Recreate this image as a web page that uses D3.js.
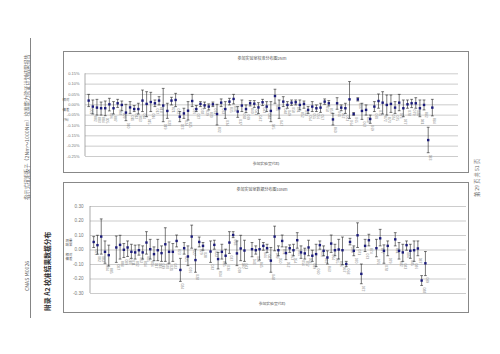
<!DOCTYPE html>
<html><head><meta charset="utf-8">
<script src="https://cdn.jsdelivr.net/npm/d3@7"></script>
<style>body{margin:0;background:#fff}svg{display:block}</style>
</head><body><svg id="c" width="500" height="354"></svg>
<script>
// ---------- DATA ----------
const codes2Nm = "001 002 003 004 005 006 007 008 009 010 011 012 013 014 015 016 017 018 019 020 021 022 023 024 025 026 027 028 029 030 031 032 033 034 035 036 037 038 039 040 041 042 043 044 045 046 047 048 049 050 051 052 053 054 055 056 057 058 059 060 061 062 063 064 065 066 067 068 069 070 071 072 073 074 075 076 077 078 079 080 081 082 083 084".split(" ");
const mean2Nm = [0.018,-0.011,-0.016,-0.019,-0.019,0.000,-0.019,0.005,-0.003,-0.040,
 -0.015,-0.023,-0.023,0.018,0.002,0.011,0.005,0.018,-0.006,-0.032,
 0.018,0.021,-0.060,-0.044,-0.031,0.016,-0.023,0.002,-0.005,-0.011,
 0.000,-0.047,0.008,-0.023,0.013,0.026,-0.035,-0.006,-0.023,0.005,
 0.003,-0.015,0.010,-0.011,-0.032,0.040,-0.019,0.013,-0.003,0.008,
 0.010,-0.003,0.002,-0.027,-0.011,-0.019,-0.016,0.013,0.005,-0.073,
 0.005,-0.016,-0.019,0.024,-0.047,0.024,-0.032,-0.027,-0.071,-0.011,
 0.016,0.008,-0.003,0.002,-0.016,0.008,-0.019,0.000,0.005,0.005,
 -0.019,-0.003,-0.173,-0.016];
const high2Nm = [0.048,0.021,0.024,0.011,0.016,0.029,0.013,0.024,0.016,0.000,
 0.013,-0.006,0.005,0.069,0.061,0.058,0.021,0.037,0.077,0.005,
 0.034,0.053,-0.035,-0.019,0.013,0.048,-0.006,0.013,0.011,0.002,
 0.011,0.000,0.026,0.013,0.029,0.048,-0.011,0.021,-0.003,0.018,
 0.018,0.008,0.024,0.013,0.013,0.073,0.021,0.037,0.013,0.021,
 0.021,0.021,0.016,-0.011,0.013,-0.003,0.005,0.026,0.018,-0.044,
 0.032,-0.003,0.005,0.110,-0.040,0.032,0.005,-0.003,-0.052,0.013,
 0.050,0.061,0.045,0.045,0.013,0.048,0.021,0.021,0.024,0.032,
 0.021,0.021,-0.111,0.024];
const low2Nm = [-0.011,-0.047,-0.052,-0.052,-0.055,-0.032,-0.047,-0.015,-0.031,-0.079,
 -0.044,-0.035,-0.047,-0.035,-0.060,-0.035,-0.011,-0.003,-0.084,-0.068,
 -0.003,-0.011,-0.084,-0.068,-0.076,-0.011,-0.035,-0.011,-0.019,-0.027,
 -0.011,-0.100,-0.011,-0.068,-0.003,0.002,-0.063,-0.035,-0.040,-0.008,
 -0.015,-0.045,-0.006,-0.035,-0.084,0.005,-0.068,-0.011,-0.019,-0.005,
 -0.003,-0.027,-0.019,-0.044,-0.035,-0.035,-0.039,0.000,-0.008,-0.100,
 -0.024,-0.031,-0.044,-0.068,-0.053,0.016,-0.073,-0.052,-0.092,-0.035,
 -0.019,-0.047,-0.052,-0.039,-0.044,-0.031,-0.060,-0.019,-0.016,-0.019,
 -0.060,-0.027,-0.234,-0.056];
const ticks2Nm = [0.15,0.10,0.05,0.00,-0.05,-0.10,-0.15,-0.20,-0.25];

const codes10Nm = "001 002 003 004 005 006 007 008 009 010 011 012 013 014 015 016 017 018 019 020 021 022 023 024 025 026 027 028 029 030 031 032 033 034 035 036 037 038 039 040 041 042 043 044 045 046 047 048 049 050 051 052 053 054 055 056 057 058 059 060 061 062 063 064 065 066 067 068 069 070 071 072 073 074 075 076 077 078 079 080 081 082 083 084 085 086 087 088 089".split(" ");
const mean10Nm = [0.052,0.030,0.089,-0.016,-0.039,null,
 0.014,0.032,-0.002,0.014,-0.016,-0.020,-0.005,-0.020,0.048,0.002,-0.032,-0.005,-0.025,0.036,-0.016,-0.016,0.059,-0.141,0.009,-0.048,0.089,-0.073,0.052,0.025,null,
 -0.014,0.032,-0.066,-0.016,-0.043,0.048,0.100,-0.027,0.007,-0.007,null,
 0.002,-0.005,0.002,0.025,0.009,-0.077,0.089,-0.005,0.059,-0.025,0.009,-0.005,0.064,-0.020,-0.027,0.014,-0.043,-0.032,0.030,-0.009,-0.055,0.041,-0.005,0.000,-0.005,-0.100,0.052,-0.009,0.098,-0.168,0.025,0.064,null,
 0.009,0.077,-0.009,0.025,null,
 0.070,-0.009,-0.020,0.030,-0.009,-0.005,0.007,-0.214,-0.095];
const high10Nm = [0.089,0.098,0.211,0.059,0.030,null,
 0.093,0.098,0.041,0.059,0.036,0.030,0.032,0.025,0.123,0.070,0.018,0.070,0.025,0.150,0.052,0.041,0.100,-0.061,0.048,0.025,0.168,0.002,0.086,0.048,null,
 0.059,0.064,-0.020,0.036,0.002,0.123,0.123,0.059,0.098,0.064,null,
 0.048,0.025,0.070,0.048,0.036,0.014,0.161,0.025,0.100,0.018,0.032,0.036,0.116,0.025,0.009,0.064,-0.005,0.036,0.059,0.025,-0.009,0.100,0.036,0.070,0.086,-0.082,0.077,0.025,0.184,-0.100,0.070,0.105,null,
 0.070,0.139,0.032,0.059,null,
 0.116,0.048,0.036,0.059,0.036,0.059,0.059,-0.180,-0.014];
const low10Nm = [0.014,-0.032,-0.032,-0.095,-0.114,null,
 -0.089,-0.066,-0.055,-0.048,-0.061,-0.066,-0.039,-0.066,-0.032,-0.066,-0.077,-0.077,-0.082,-0.082,-0.095,-0.082,0.018,-0.220,-0.032,-0.111,0.009,-0.157,0.018,-0.005,null,
 -0.089,0.002,-0.134,-0.066,-0.095,-0.027,0.082,-0.111,-0.077,-0.082,null,
 -0.050,-0.032,-0.073,-0.005,-0.020,-0.157,-0.009,-0.043,0.018,-0.070,-0.020,-0.043,0.009,-0.061,-0.066,-0.043,-0.082,-0.118,0.002,-0.043,-0.100,-0.020,-0.043,-0.066,-0.105,-0.118,0.032,-0.043,0.014,-0.236,-0.014,0.025,null,
 -0.050,0.025,-0.095,-0.043,null,
 0.025,-0.066,-0.082,-0.005,-0.061,-0.082,-0.043,-0.248,-0.180];
const ticks10Nm = [0.30,0.20,0.10,0.00,-0.10,-0.20,-0.30];

// ---------- DRAW ----------
const svg = d3.select("#c");
svg.append("rect").attr("width",500).attr("height",354).attr("fill","#fff");
const CJK = "'Noto Sans CJK SC', sans-serif";

svg.append("line").attr("x1",30.5).attr("x2",30.5).attr("y1",38).attr("y2",318).attr("stroke","#666").attr("stroke-width",0.8);
function vtext(x, y, str, size, opts={}) {
  return svg.append("text").attr("transform",`translate(${x},${y}) rotate(-90)`)
    .attr("font-family",CJK).attr("font-size",size).attr("fill",opts.fill||"#666")
    .attr("font-weight",opts.weight||"normal").attr("text-anchor",opts.anchor||"start").text(str);
}
vtext(28.5, 291, "CNAS M0026", 5.2);
vtext(28.5, 200, "指示式扭矩扳子（2Nm～1000Nm）校准能力验证计划结果报告", 5.2);
vtext(50, 311, "附录 A2   校准结果数据分布", 6.8, {fill:"#333", weight:"bold"});
vtext(479, 197, "第 29 页  共 51 页", 5.2);

function drawChart(cfg) {
  const g = svg.append("g");
  g.append("rect").attr("x",cfg.box[0]+0.5).attr("y",cfg.box[1]+0.5)
    .attr("width",cfg.box[2]-cfg.box[0]).attr("height",cfg.box[3]-cfg.box[1])
    .attr("fill","none").attr("stroke","#888").attr("stroke-width",1);
  const y = d3.scaleLinear().domain(cfg.yDomain).range([cfg.plot.bottom, cfg.plot.top]);
  const x = d3.scaleBand().domain(cfg.codes.map((c,i)=>i)).range(cfg.xRange);
  const ax = d3.axisLeft(y).tickValues(cfg.ticks)
    .tickSize(-(cfg.plot.right-cfg.plot.left)).tickPadding(cfg.pad).tickFormat(cfg.fmt);
  const axg = g.append("g").attr("transform",`translate(${cfg.plot.left},0)`).call(ax);
  axg.select(".domain").remove();
  axg.selectAll(".tick line").attr("stroke","#aaa").attr("stroke-width",0.6);
  axg.selectAll(".tick text").attr("font-family","'Liberation Sans', sans-serif")
    .attr("font-size",cfg.tickSize).attr("fill","#777");
  g.append("line").attr("x1",cfg.plot.left).attr("x2",cfg.plot.left)
    .attr("y1",cfg.plot.top).attr("y2",cfg.plot.bottom).attr("stroke","#888").attr("stroke-width",0.7);
  g.append("text").attr("x",cfg.titleX).attr("y",cfg.titleY).attr("text-anchor","middle")
    .attr("font-family",CJK).attr("font-size",4).attr("fill","#555").text(cfg.title);
  g.append("text").attr("x",cfg.xTitleX).attr("y",cfg.xTitleY).attr("text-anchor","middle")
    .attr("font-family",CJK).attr("font-size",3.8).attr("fill","#555").text("参加实验室代码");
  cfg.yTitle.forEach((t,i)=>{
    g.append("text").attr("x",cfg.yTitleX).attr("y",cfg.yTitleRows[i]).attr("text-anchor","middle")
      .attr("font-family",CJK).attr("font-size",3.4).attr("fill","#555").text(t);
  });
  const data = cfg.codes.map((c,i)=>({i, code:c, m:cfg.mean[i], hi:cfg.high[i], lo:cfg.low[i]}))
    .filter(d=>d.m!==null);
  const bw = x.bandwidth(), cap = 1.4;
  const eb = g.append("g").selectAll("g").data(data).join("g")
    .attr("transform",d=>`translate(${x(d.i)+bw/2},0)`);
  eb.append("line").attr("y1",d=>y(d.hi)).attr("y2",d=>y(d.lo)).attr("stroke","#222").attr("stroke-width",0.6);
  eb.append("line").attr("x1",-cap).attr("x2",cap).attr("y1",d=>y(d.hi)).attr("y2",d=>y(d.hi)).attr("stroke","#222").attr("stroke-width",0.6);
  eb.append("line").attr("x1",-cap).attr("x2",cap).attr("y1",d=>y(d.lo)).attr("y2",d=>y(d.lo)).attr("stroke","#222").attr("stroke-width",0.6);
  eb.append("rect").attr("x",-1.2).attr("y",d=>y(d.m)-1.2).attr("width",2.4).attr("height",2.4).attr("fill","#1a1a7a");
  eb.append("text").attr("transform",d=>`translate(0.9,${y(d.lo)+2}) rotate(90)`)
    .attr("font-family","'Liberation Sans', sans-serif").attr("font-size",3.4).attr("fill","#888")
    .text(d=>d.code);
}

drawChart({
  box:[63,51,468,172], plot:{left:85,right:458,top:73.3,bottom:156},
  yDomain:[-0.25,0.15], ticks:ticks2Nm, fmt:v=>v.toFixed(2)+"%", pad:5.5, tickSize:4,
  xRange:[86.6,434.4], codes:codes2Nm, mean:mean2Nm, high:high2Nm, low:low2Nm,
  title:"参加实验室校准分布图2Nm", titleX:262, titleY:60,
  xTitleX:266, xTitleY:165,
  yTitle:["相对","偏差","(%)"], yTitleX:66, yTitleRows:[100.6,110.8,121.2]
});
drawChart({
  box:[63,182,468,312], plot:{left:90,right:466,top:206,bottom:293},
  yDomain:[-0.30,0.30], ticks:ticks10Nm, fmt:v=>v.toFixed(2), pad:6.5, tickSize:4.6,
  xRange:[91.8,427.3], codes:codes10Nm, mean:mean10Nm, high:high10Nm, low:low10Nm,
  title:"参加实验室数据分布图10Nm", titleX:262, titleY:191,
  xTitleX:272, xTitleY:305,
  yTitle:["测量","结果","相对","偏差"], yTitleX:69, yTitleRows:[241.5,245.5,255.6,259.6]
});
</script></body></html>
